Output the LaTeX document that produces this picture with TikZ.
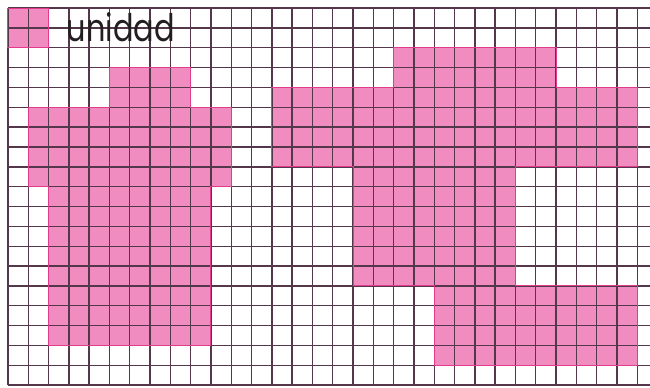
\documentclass[tikz,border=0pt]{standalone}
\usepackage{fontspec}
\setmainfont{Poppins}
\definecolor{gridline}{RGB}{85,55,75}
\definecolor{pinkfill}{RGB}{240,140,192}
\definecolor{pinkedge}{RGB}{225,60,140}
\definecolor{textgray}{RGB}{35,31,32}
\begin{document}
\begin{tikzpicture}[x=20.3pt,y=-19.85pt]

  % Picture frame
  \useasboundingbox (-0.394,-0.403) rectangle (31.626,19.14);

  % Unit square
  \fill[pinkfill] (0,0) rectangle (2,2);

  % Left shape
  \fill[pinkfill] (5,3) -- (9,3) -- (9,5) -- (11,5) -- (11,9) -- (10,9) -- (10,17)
    -- (2,17) -- (2,9) -- (1,9) -- (1,5) -- (5,5) -- cycle;

  % Right shape
  \fill[pinkfill] (19,2) -- (27,2) -- (27,4) -- (31,4) -- (31,8) -- (25,8) -- (25,14)
    -- (31,14) -- (31,18) -- (21,18) -- (21,14) -- (17,14) -- (17,8) -- (13,8)
    -- (13,4) -- (19,4) -- cycle;

  % Grid
  \foreach \i in {0,...,31}
    \draw[gridline, line width=1.4pt] (\i,0) -- (\i,19);
  \foreach \j in {0,...,19}
    \draw[gridline, line width=1.4pt] (0,\j) -- (31.626,\j);

  % Shape outlines
  \draw[pinkedge, line width=1pt] (0,0) rectangle (2,2);
  \draw[pinkedge, line width=1pt] (5,3) -- (9,3) -- (9,5) -- (11,5) -- (11,9) -- (10,9)
    -- (10,17) -- (2,17) -- (2,9) -- (1,9) -- (1,5) -- (5,5) -- cycle;
  \draw[pinkedge, line width=1pt] (19,2) -- (27,2) -- (27,4) -- (31,4) -- (31,8) -- (25,8)
    -- (25,14) -- (31,14) -- (31,18) -- (21,18) -- (21,14) -- (17,14) -- (17,8)
    -- (13,8) -- (13,4) -- (19,4) -- cycle;

  % Label
  \node[anchor=base west, inner sep=0pt, text=textgray,
        font=\fontsize{38}{40}\selectfont] (unidad) at (2.89,1.70)
        {\scalebox{0.8}[1]{unidad}};

\end{tikzpicture}
\end{document}
